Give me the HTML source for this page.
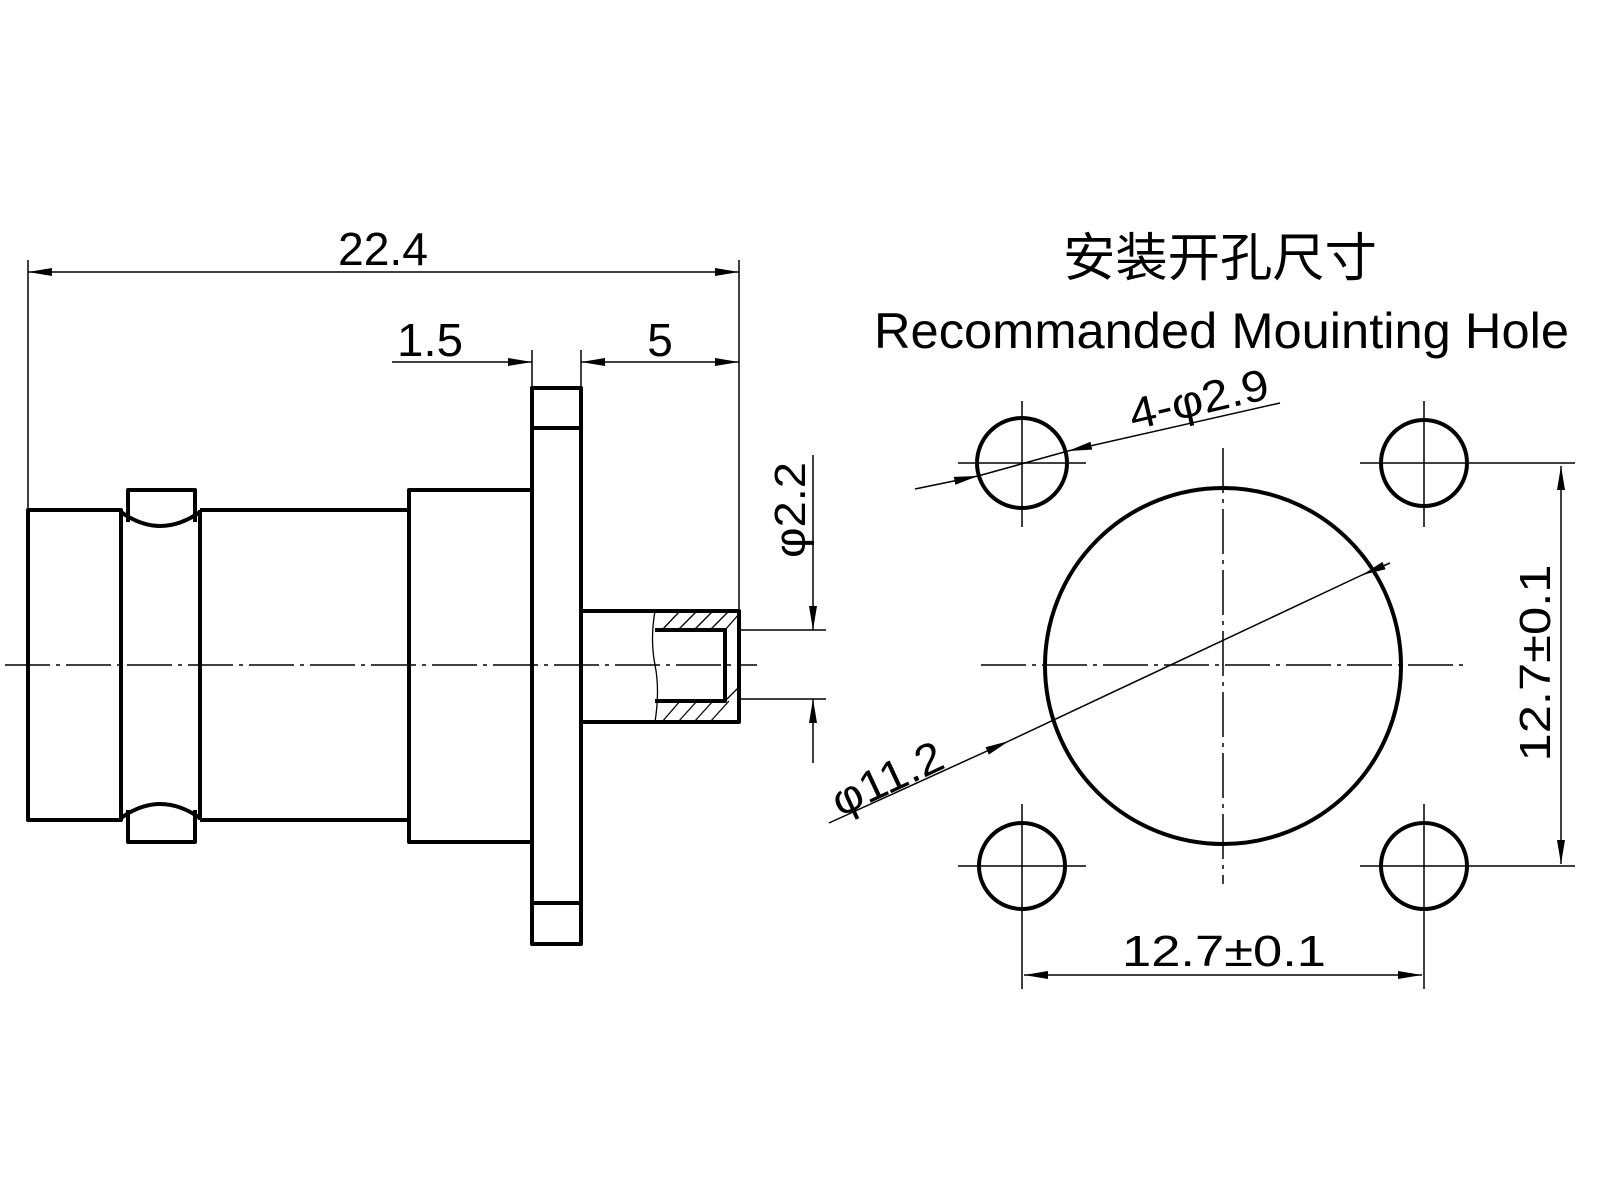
<!DOCTYPE html>
<html><head><meta charset="utf-8"><style>
html,body{margin:0;padding:0;background:#fff;}
svg{display:block;}
text{font-family:"Liberation Sans","Noto Sans CJK SC",sans-serif;fill:#000;}
</style></head><body>
<svg width="1600" height="1200" viewBox="0 0 1600 1200" xmlns="http://www.w3.org/2000/svg">
<defs>
<marker id="a" markerUnits="userSpaceOnUse" markerWidth="24" markerHeight="10" refX="24" refY="5" orient="auto-start-reverse">
<path d="M0,1 L24,5 L0,9 Z" fill="#000"/></marker>
</defs>
<!-- title -->
<text x="1220" y="276" font-size="52" text-anchor="middle" textLength="314" lengthAdjust="spacingAndGlyphs">安装开孔尺寸</text>
<text x="874" y="348" font-size="50" font-family="Liberation Mono, monospace" textLength="695" lengthAdjust="spacingAndGlyphs">Recommanded Mouinting Hole</text>

<!-- left view body -->
<g fill="none" stroke="#000" stroke-width="4" stroke-linejoin="round">
<rect x="28" y="510" width="93" height="310"/>
<line x1="121" y1="510" x2="121" y2="820"/>
<line x1="200" y1="510" x2="200" y2="820"/>
<path d="M128,522 L128,490 L195,490 L195,522"/>
<path d="M121,512 Q160,540 200,512"/>
<path d="M128,810 L128,842 L195,842 L195,810"/>
<path d="M121,818 Q160,790 200,818"/>
<line x1="200" y1="510" x2="409" y2="510"/>
<line x1="200" y1="820" x2="409" y2="820"/>
<rect x="409" y="490" width="123" height="352"/>
<rect x="532" y="388" width="49" height="556"/>
<line x1="532" y1="428" x2="581" y2="428"/>
<line x1="532" y1="903" x2="581" y2="903"/>
<path d="M581,611 L739,611 L739,722 L581,722"/>
<path d="M655,630 L725,630 L725,701 L655,701"/>
</g>
<!-- break line & hatching -->
<g fill="none" stroke="#000" stroke-width="1.3">
<path d="M655,611 Q650,640 655,665 Q660,690 655,722"/>
<path d="M662,630 L680,611 M678,630 L697,611 M694,630 L713,611 M710,630 L729,611 M725,630 L739,614"/>
<path d="M662,722 L680,701 M678,722 L697,701 M694,722 L713,701 M710,722 L729,701 M725,701 L739,687"/>
</g>
<!-- centerline left -->
<line x1="5" y1="665" x2="757" y2="665" stroke="#000" stroke-width="1.5" stroke-dasharray="45 6 4 6"/>

<!-- left dims -->
<g stroke="#000" stroke-width="1.5" fill="none">
<line x1="28" y1="260" x2="28" y2="508"/>
<line x1="739" y1="260" x2="739" y2="609"/>
<line x1="28" y1="272" x2="739" y2="272" marker-start="url(#a)" marker-end="url(#a)"/>
<line x1="532" y1="350" x2="532" y2="386"/>
<line x1="581" y1="350" x2="581" y2="386"/>
<line x1="392" y1="362" x2="532" y2="362" marker-end="url(#a)"/>
<line x1="581" y1="362" x2="739" y2="362" marker-start="url(#a)" marker-end="url(#a)"/>
<line x1="739" y1="630" x2="826" y2="630"/>
<line x1="739" y1="699" x2="826" y2="699"/>
<line x1="813" y1="455" x2="813" y2="630" marker-end="url(#a)"/>
<line x1="813" y1="763" x2="813" y2="699" marker-end="url(#a)"/>
</g>
<text x="383" y="265" font-size="46" text-anchor="middle" textLength="90" lengthAdjust="spacingAndGlyphs">22.4</text>
<text x="430" y="356" font-size="46" text-anchor="middle" textLength="66" lengthAdjust="spacingAndGlyphs">1.5</text>
<text x="660" y="356" font-size="46" text-anchor="middle">5</text>
<text x="0" y="0" font-size="44" text-anchor="middle" transform="translate(805,510) rotate(-90)" textLength="96" lengthAdjust="spacingAndGlyphs">φ2.2</text>

<!-- right view -->
<g fill="none" stroke="#000" stroke-width="4">
<circle cx="1223" cy="666" r="178"/>
<circle cx="1022" cy="463" r="45"/>
<circle cx="1424" cy="463" r="43"/>
<circle cx="1022" cy="866" r="43"/>
<circle cx="1424" cy="866" r="43"/>
</g>
<g stroke="#000" stroke-width="1.5" fill="none">
<line x1="1223" y1="448" x2="1223" y2="884" stroke-dasharray="45 6 4 6"/>
<line x1="981" y1="665" x2="1464" y2="665" stroke-dasharray="45 6 4 6"/>
<line x1="958" y1="463" x2="1086" y2="463"/><line x1="1022" y1="401" x2="1022" y2="527"/>
<line x1="1360" y1="463" x2="1575" y2="463"/><line x1="1424" y1="401" x2="1424" y2="527"/>
<line x1="958" y1="866" x2="1086" y2="866"/><line x1="1022" y1="804" x2="1022" y2="989"/>
<line x1="1360" y1="866" x2="1575" y2="866"/><line x1="1424" y1="804" x2="1424" y2="989"/>
<line x1="1561" y1="466" x2="1561" y2="864" marker-start="url(#a)" marker-end="url(#a)"/>
<line x1="1024" y1="975" x2="1422" y2="975" marker-start="url(#a)" marker-end="url(#a)"/>
<line x1="915" y1="489" x2="978" y2="476" marker-end="url(#a)"/>
<line x1="978" y1="476" x2="1068" y2="451"/>
<line x1="1280" y1="403" x2="1068" y2="451" marker-end="url(#a)"/>
<line x1="829" y1="823" x2="1009" y2="741" marker-end="url(#a)"/>
<line x1="1009" y1="741" x2="1362" y2="575"/>
<line x1="1390" y1="563" x2="1362" y2="575" marker-end="url(#a)"/>
</g>
<text x="1224" y="966" font-size="44" text-anchor="middle" textLength="204" lengthAdjust="spacingAndGlyphs">12.7±0.1</text>
<text x="0" y="0" font-size="44" text-anchor="middle" transform="translate(1550,663) rotate(-90)" textLength="197" lengthAdjust="spacingAndGlyphs">12.7±0.1</text>
<text x="0" y="0" font-size="44" transform="translate(1133,430) rotate(-13)" textLength="142" lengthAdjust="spacingAndGlyphs">4-φ2.9</text>
<text x="0" y="0" font-size="44" transform="translate(840,817) rotate(-25)" textLength="118" lengthAdjust="spacingAndGlyphs">φ11.2</text>
</svg>
</body></html>
